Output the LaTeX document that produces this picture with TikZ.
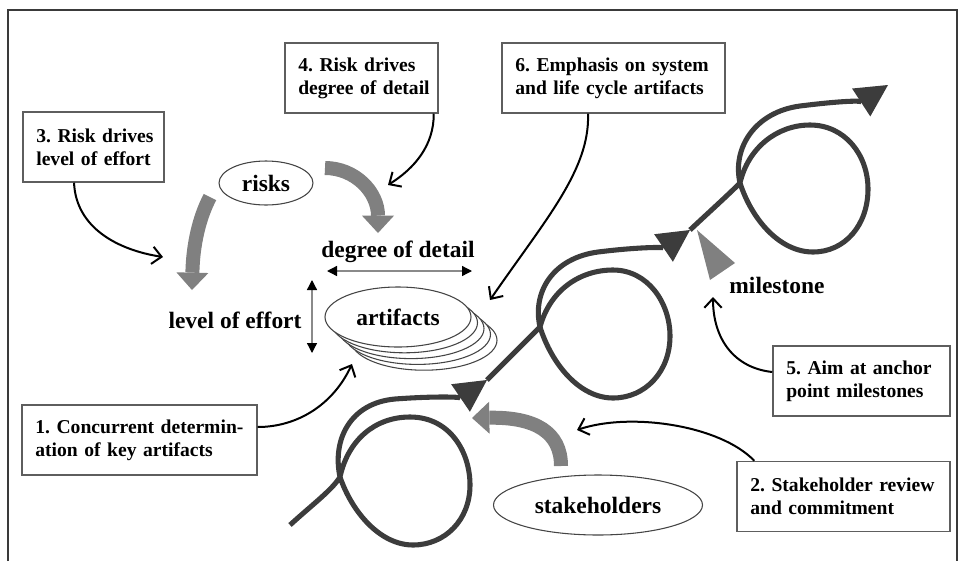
\documentclass[tikz,border=0pt]{standalone}
\usepackage{fontspec}
\setmainfont{Liberation Serif}
\usetikzlibrary{arrows.meta,shapes.geometric}
\definecolor{framec}{HTML}{3A3A3A}
\definecolor{boxc}{HTML}{5E5E5E}
\definecolor{ellc}{HTML}{444444}
\definecolor{spiralc}{HTML}{3C3C3C}
\definecolor{bandc}{HTML}{808080}
\definecolor{dblc}{HTML}{8A8A8A}
\newcommand{\boxfont}{\fontsize{14.7pt}{17.3pt}\selectfont\bfseries}
\newcommand{\labfont}{\fontsize{17.6pt}{20pt}\selectfont\bfseries}
\frenchspacing
\begin{document}
\frenchspacing
\begin{tikzpicture}[x=0.75pt,y=-0.75pt,
  textbox/.style={draw=boxc,line width=1.1pt,fill=white,minimum height=52.5pt,inner xsep=10pt,inner ysep=0pt,align=left,font=\boxfont},
  lab/.style={font=\labfont,inner sep=0pt},
  conn/.style={line width=1.5pt,-{Straight Barb[length=7pt,width=13pt]}},
  ell/.style={ellipse,draw=ellc,line width=0.8pt,fill=white,inner sep=0pt},
  spiral/.style={draw=spiralc,line width=3.8pt,-{Triangle[length=24pt,width=25pt,line width=0pt]}},
  band/.style={draw=bandc,line width=10.5pt,-{Triangle[length=13pt,width=24pt,line width=0pt]}},
  dbl/.style={draw=dblc,line width=1pt,{Triangle[length=7.5pt,width=7.5pt,color=black]}-{Triangle[length=7.5pt,width=7.5pt,color=black]}}
]
\useasboundingbox (0,0) rectangle (961,561);
% frame
\draw[framec,line width=1.1pt] (8,561) -- (8,10) -- (957,10) -- (957,561);

% text boxes
\node[textbox,text width=156.25pt] (b1) at (139.5,440) {\mbox{1. Concurrent determin-}\\\mbox{ation of key artifacts}};
\node[textbox,text width=139.75pt] (b2) at (843.5,496.5) {\mbox{2. Stakeholder review}\\\mbox{and commitment}};
\node[textbox,text width=85.75pt] (b3) at (93.5,147) {\mbox{3. Risk drives}\\\mbox{level of effort}};
\node[textbox,text width=94.75pt] (b4) at (361.5,78) {\mbox{4. Risk drives}\\\mbox{degree of detail}};
\node[textbox,text width=112.75pt] (b5) at (861.5,381) {\mbox{5. Aim at anchor}\\\mbox{point milestones}};
\node[textbox,text width=147.25pt] (b6) at (613.5,78) {\mbox{6. Emphasis on system}\\\mbox{and life cycle artifacts}};

% ellipses
\node[ell,minimum width=70.5pt,minimum height=33pt,font=\labfont] (risks) at (266,183) {risks};
\node[ell,minimum width=109.5pt,minimum height=45pt] (art4) at (424,340.2) {};
\node[ell,minimum width=109.5pt,minimum height=45pt] (art3) at (417.5,334.4) {};
\node[ell,minimum width=109.5pt,minimum height=45pt] (art2) at (411,328.6) {};
\node[ell,minimum width=109.5pt,minimum height=45pt] (art1) at (404.5,322.8) {};
\node[ell,minimum width=109.5pt,minimum height=45pt,font=\labfont] (art) at (398,317) {artifacts};
\node[ell,minimum width=156.75pt,minimum height=45pt,font=\labfont] (stake) at (598,505) {stakeholders};

% labels
\node[lab] (ldetail) at (398,252) {degree of detail};
\node[lab] (leffort) at (235,320) {level of effort};
\node[lab] (lmile) at (777,285) {milestone};

% double arrows
\coordinate (dh1) at (327,271); \coordinate (dh2) at (472,271);
\draw[dbl] (dh1) -- (dh2);
\coordinate (dv1) at (312,280); \coordinate (dv2) at (312,353);
\draw[dbl] (dv1) -- (dv2);

% gray bands
\coordinate (gR1) at (325,168); \coordinate (gR2) at (378,233);
\draw[band] (gR1) .. controls (355,168) and (378,192) .. (gR2);
\coordinate (gL1) at (210,197); \coordinate (gL2) at (192,290);
\draw[band] (gL1) .. controls (199,218) and (193,245) .. (gL2);
\coordinate (gS1) at (561,466); \coordinate (gS2) at (472,418);
\draw[band] (gS1) .. controls (561,432) and (535,417) .. (gS2);

% spiral
\coordinate (sp0) at (290,525);
\coordinate (c1) at (340,477);
\coordinate (a1) at (487,380);
\coordinate (c2) at (540,327);
\coordinate (a2) at (690,230);
\coordinate (c3) at (740,183);
\coordinate (a3) at (888,85);
\draw[spiral] (sp0) .. controls (313,504) and (332,490) .. (c1)
 .. controls (348,440) and (375,417) .. (410,417)
 .. controls (450,417) and (470,452) .. (470,485)
 .. controls (470,520) and (445,545) .. (413,545)
 .. controls (380,545) and (352,512) .. (c1)
 .. controls (332,440) and (350,403) .. (395,399)
 .. controls (435,396) and (462,397) .. (a1);
\draw[spiral] (a1) .. controls (505,362) and (525,342) .. (c2)
 .. controls (550,290) and (580,270) .. (613,270)
 .. controls (648,270) and (670,303) .. (670,336)
 .. controls (670,372) and (645,398) .. (613,398)
 .. controls (580,398) and (552,365) .. (c2)
 .. controls (532,292) and (553,258) .. (598,252)
 .. controls (638,247) and (665,247) .. (a2);
\draw[spiral] (a2) .. controls (707,214) and (727,196) .. (c3)
 .. controls (748,148) and (777,125) .. (810,125)
 .. controls (845,125) and (868,155) .. (868,189)
 .. controls (868,225) and (845,252) .. (813,252)
 .. controls (780,252) and (752,220) .. (c3)
 .. controls (732,148) and (755,112) .. (800,106)
 .. controls (840,101) and (865,100) .. (a3);

% milestone marker
\fill[bandc] (697,230) -- (735,263) -- (710,280) -- cycle;

% connectors
\coordinate (t1) at (352,364);
\coordinate (t2) at (577,430);
\coordinate (t3) at (163,257);
\coordinate (t4) at (388,185);
\coordinate (t5) at (713,297);
\coordinate (t6) at (490,300);
\draw[conn] ([yshift=9.75pt]b1.east) .. controls (297,427) and (333,405) .. (t1);
\draw[conn] ([xshift=13.5pt]b2.north west) .. controls (720,425) and (630,412) .. (t2);
\draw[conn] ([xshift=-14.6pt]b3.south) .. controls (76,228) and (118,250) .. (t3);
\draw[conn] ([xshift=-3.75pt]b4.south east) .. controls (434,145) and (415,168) .. (t4);
\draw[conn] ([yshift=6.75pt]b5.west) .. controls (735,368) and (713,340) .. (t5);
\draw[conn] ([xshift=-19.1pt]b6.south) .. controls (590,170) and (545,220) .. (t6);
\end{tikzpicture}
\end{document}
